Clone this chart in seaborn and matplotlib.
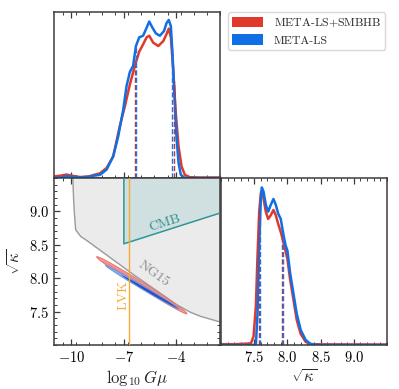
import numpy as np
import matplotlib
matplotlib.use('Agg')
import matplotlib.pyplot as plt
from matplotlib.patches import Patch
from matplotlib.ticker import MultipleLocator
import seaborn as sns

# marginal of log10 Gmu, normalised to the blue peak
gmu_x_red = [-11.0, -10.6, -10.3, -10.0, -9.5, -9.0, -8.7, -8.37, -7.99, -7.61, -7.23, -6.94,
             -6.66, -6.37, -6.12, -5.90, -5.70, -5.55, -5.32, -5.03, -4.74, -4.56, -4.43, -4.31,
             -4.18, -4.03, -3.87, -3.70, -3.51, -3.22, -2.65, -1.5]
gmu_red = [0.010, 0.015, 0.022, 0.015, 0.006, 0.010, 0.020, 0.030, 0.063, 0.137, 0.33, 0.455,
           0.59, 0.71, 0.80, 0.845, 0.89, 0.90, 0.856, 0.835, 0.867, 0.91, 0.945, 0.89,
           0.69, 0.41, 0.20, 0.074, 0.020, 0.005, 0.003, 0.003]
gmu_x_blue = [-11.0, -10.6, -10.3, -10.0, -9.5, -9.0, -8.7, -8.37, -7.99, -7.61, -7.33, -7.04,
              -6.85, -6.66, -6.47, -6.31, -6.12, -5.90, -5.70, -5.55, -5.36, -5.17, -4.94, -4.70,
              -4.56, -4.43, -4.31, -4.22, -4.10, -3.99, -3.87, -3.74, -3.51, -1.5]
gmu_blue = [0.0, 0.004, 0.012, 0.008, 0.004, 0.008, 0.015, 0.020, 0.053, 0.137, 0.26, 0.43,
            0.58, 0.67, 0.71, 0.835, 0.89, 0.90, 0.95, 0.99, 0.95, 0.915, 0.90, 0.93,
            0.98, 1.0, 0.96, 0.79, 0.52, 0.26, 0.095, 0.02, 0.0, 0.0]

# marginal of sqrt(kappa)
kap_x_red = [7.0, 7.2, 7.45, 7.49, 7.525, 7.55, 7.575, 7.60, 7.615, 7.64, 7.675, 7.71, 7.75,
             7.79, 7.825, 7.86, 7.90, 7.94, 7.975, 8.0, 8.04, 8.09, 8.14, 8.20, 8.275, 8.35,
             8.5, 9.5]
kap_red = [0.005, 0.005, 0.010, 0.054, 0.246, 0.567, 0.846, 0.964, 0.98, 0.93, 0.846, 0.80,
           0.824, 0.857, 0.824, 0.77, 0.717, 0.653, 0.59, 0.546, 0.418, 0.29, 0.16, 0.07,
           0.02, 0.006, 0.004, 0.003]
kap_x_blue = [7.0, 7.525, 7.55, 7.575, 7.60, 7.615, 7.64, 7.675, 7.71, 7.75, 7.79, 7.825,
              7.86, 7.90, 7.94, 7.975, 8.0, 8.04, 8.09, 8.14, 8.20, 8.275, 8.35, 8.5, 9.5]
kap_blue = [0.0, 0.0, 0.20, 0.63, 0.93, 1.0, 0.974, 0.89, 0.846, 0.89, 0.927, 0.89,
            0.835, 0.80, 0.70, 0.63, 0.60, 0.46, 0.33, 0.20, 0.096, 0.032, 0.006, 0.0, 0.0]

# credible interval bounds
gmu_q_red = [-6.35, -4.14]
gmu_q_blue = [-6.28, -4.24]
kap_q_red = [7.575, 7.92]
kap_q_blue = [7.59, 7.93]

# 2D contours: the two tips of each (thin) ellipse
red95_tips = [(-8.55, 8.32), (-3.40, 7.47)]
red68_tips = [(-8.25, 8.26), (-3.62, 7.51)]
blue95_tips = [(-8.05, 8.19), (-3.86, 7.54)]
blue68_tips = [(-7.1, 8.04), (-3.95, 7.555)]

# exclusion regions
ng15_x = [-9.93, -9.88, -9.84, -9.76, -9.47, -9.10, -6.43, -3.95, -3.19, -2.62, -1.5]
ng15_y = [9.55, 9.2, 9.0, 8.725, 8.625, 8.56, 8.05, 7.60, 7.49, 7.43, 7.345]
cmb_x = [-7.0, -7.0, -1.5]
cmb_y = [9.55, 8.515, 8.975]
lvk_x = -6.68

RED = '#E0392B'
BLUE = '#0F6FE6'

sns.set_style('ticks')
plt.rcParams.update({
    'font.family': 'serif',
    'font.serif': ['cmr10'],
    'mathtext.fontset': 'cm',
    'axes.formatter.use_mathtext': True,
    'axes.unicode_minus': True,
    'font.size': 10,
    'axes.edgecolor': '#3c3c3c',
    'axes.linewidth': 1.1,
    'xtick.color': '#3c3c3c',
    'ytick.color': '#3c3c3c',
    'xtick.labelcolor': 'black',
    'ytick.labelcolor': 'black',
})

fig = plt.figure(figsize=(3.99, 3.89), dpi=100)
ax_top = fig.add_axes([0.1353, 0.5424, 0.4160, 0.4267])
ax_2d = fig.add_axes([0.1353, 0.1131, 0.4160, 0.4293])
ax_r = fig.add_axes([0.5539, 0.1131, 0.4160, 0.4293])

XLIM = (-11.0, -1.5)
YLIM = (7.0, 9.5)


def style_ticks(ax, xmajor, xminor, ymajor=None, yminor=None):
    ax.xaxis.set_major_locator(MultipleLocator(xmajor))
    ax.xaxis.set_minor_locator(MultipleLocator(xminor))
    if ymajor is not None:
        ax.yaxis.set_major_locator(MultipleLocator(ymajor))
        ax.yaxis.set_minor_locator(MultipleLocator(yminor))
    else:
        ax.set_yticks([])
        ax.set_yticks([], minor=True)
    ax.tick_params(which='both', direction='in', top=True, right=ymajor is not None,
                   labelsize=10.5)
    ax.tick_params(which='major', length=4, width=0.9)
    ax.tick_params(which='minor', length=2, width=0.7)


def marginal(ax, xr, yr, xb, yb, qr, qb):
    sns.lineplot(x=xr, y=yr, ax=ax, color=RED, lw=1.8, sort=False)
    sns.lineplot(x=xb, y=yb, ax=ax, color=BLUE, lw=1.8, sort=False)
    for q in qr:
        ax.vlines(q, 0, np.interp(q, xr, yr), colors='#B03A48', linestyles='--', lw=1.0)
    for q in qb:
        ax.vlines(q, 0, np.interp(q, xb, yb), colors='#2A6FE0', linestyles='--', lw=1.0)


def ellipse(ax, tips, half_w, **kw):
    # build the ellipse in axes-fraction space so it looks right on screen
    (x1, y1), (x2, y2) = tips
    sx, sy = XLIM[1] - XLIM[0], YLIM[1] - YLIM[0]
    p1 = np.array([(x1 - XLIM[0]) / sx, (y1 - YLIM[0]) / sy])
    p2 = np.array([(x2 - XLIM[0]) / sx, (y2 - YLIM[0]) / sy])
    c = (p1 + p2) / 2
    d = (p2 - p1) / 2
    a = np.hypot(*d)
    d = d / a
    n = np.array([-d[1], d[0]])
    t = np.linspace(0, 2 * np.pi, 200)
    pts = c[:, None] + a * np.cos(t) * d[:, None] + half_w * np.sin(t) * n[:, None]
    ax.fill(XLIM[0] + pts[0] * sx, YLIM[0] + pts[1] * sy, **kw)


# top-left: log10 Gmu marginal
marginal(ax_top, gmu_x_red, gmu_red, gmu_x_blue, gmu_blue, gmu_q_red, gmu_q_blue)
ax_top.set_xlim(XLIM)
ax_top.set_ylim(0, 1.05)
style_ticks(ax_top, 3, 0.75)
ax_top.set_xticks([-10, -7, -4])
ax_top.tick_params(labelbottom=False)
ax_top.set_xlabel('')
ax_top.set_ylabel('')

# bottom-right: sqrt(kappa) marginal
marginal(ax_r, kap_x_red, kap_red, kap_x_blue, kap_blue, kap_q_red, kap_q_blue)
ax_r.set_xlim(YLIM)
ax_r.set_ylim(0, 1.06)
style_ticks(ax_r, 0.5, 0.1)
ax_r.set_xticks([7.5, 8.0, 8.5, 9.0])
ax_r.set_xlabel(r'$\sqrt{\kappa}$', fontsize=12, labelpad=2)
ax_r.set_ylabel('')

# bottom-left: 2D posterior with bounds
ax_2d.set_xlim(XLIM)
ax_2d.set_ylim(YLIM)
ax_2d.fill(ng15_x + [XLIM[1] + 1], ng15_y + [YLIM[1] + 1], color='#EBEBEB', lw=0, zorder=1)
ax_2d.plot(ng15_x, ng15_y, color='#9A9A9A', lw=1.0, zorder=2)
ax_2d.fill(cmb_x + [XLIM[1] + 1], cmb_y + [YLIM[1] + 1], color='#2E9A9A', alpha=0.14, lw=0, zorder=2)
ax_2d.plot(cmb_x, cmb_y, color='#2E9696', lw=1.1, zorder=3)

ellipse(ax_2d, red95_tips, 0.017, facecolor='#F4A7A1', edgecolor='#E8746C', lw=0.8, zorder=3)
ellipse(ax_2d, red68_tips, 0.012, facecolor='#EE8A84', edgecolor='none', zorder=3)
ellipse(ax_2d, blue95_tips, 0.0105, facecolor='#86A9EA', edgecolor='#5E8FE6', lw=0.5, zorder=4)
ellipse(ax_2d, blue68_tips, 0.0065, facecolor='#1F4FC4', edgecolor='none', zorder=4)

ax_2d.axvline(lvk_x, color='#F5AA38', lw=1.0, zorder=5)
ax_2d.text(-5.3, 8.07, 'NG15', color='#8C8C8C', rotation=-36, ha='center', va='center',
           fontsize=10, zorder=6)
ax_2d.text(-4.68, 8.83, 'CMB', color='#2E9090', rotation=17.7, ha='center', va='center',
           fontsize=10, zorder=6)
ax_2d.text(-7.02, 7.74, 'LVK', color='#F5AA38', rotation=90, ha='center', va='center',
           fontsize=10, zorder=6)
style_ticks(ax_2d, 3, 0.75, 0.5, 0.1)
ax_2d.set_xticks([-10, -7, -4])
ax_2d.set_yticks([7.5, 8.0, 8.5, 9.0])
ax_2d.set_xlabel(r'$\log_{10} G\mu$', fontsize=12, labelpad=2)
ax_2d.set_ylabel(r'$\sqrt{\kappa}$', fontsize=12)

handles = [Patch(facecolor=RED, edgecolor='none'), Patch(facecolor=BLUE, edgecolor='none')]
fig.legend(handles, ['META-LS$+$SMBHB', 'META-LS'], loc='upper right',
           bbox_to_anchor=(0.972, 0.974), fontsize=8.5, frameon=True, fancybox=True,
           edgecolor='#CFCFCF', handlelength=2.6, handleheight=1.0, handletextpad=0.9,
           borderpad=0.35, labelspacing=0.45, borderaxespad=0.2)

fig.savefig('out.png', dpi=100)
